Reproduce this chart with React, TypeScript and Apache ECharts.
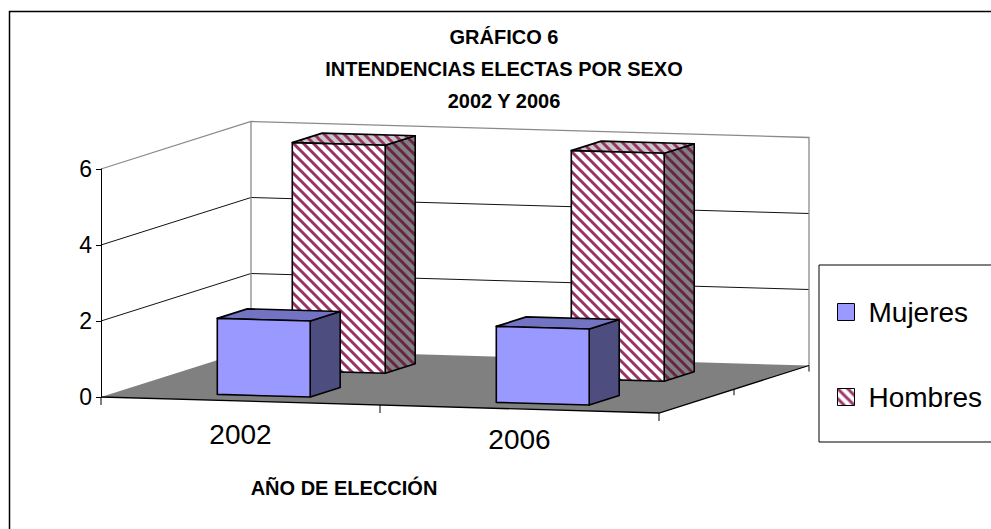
import React, { useEffect, useRef } from 'react';
import * as echarts from 'echarts';

// ---- data ----
const categories = ['2002', '2006'];
const seriesNames = ['Mujeres', 'Hombres'];
const mujeres = [2, 2];
const hombres = [6, 6];
const yTicks = [0, 2, 4, 6];
const titleText = 'GRÁFICO 6\nINTENDENCIAS ELECTAS POR SEXO\n2002 Y 2006';
const xAxisTitle = 'AÑO DE ELECCIÓN';

// ---- projection / style constants ----
const DEPTH_DX = 150;
const DEPTH_DY = -47.5;
const FRONT_SLOPE = 16 / 558;
const BAR_LEFT = -0.145;
const BAR_RIGHT = 0.188;
const ROW_DEPTH = 0.5;
const BAR_FRONT = 0.115;
const BAR_DEPTH = 0.2;
const FONT = "'Liberation Sans', Arial, sans-serif";

function stripes(bg: string, fg: string, size = 10, width = 3) {
  const c = document.createElement('canvas');
  c.width = size;
  c.height = size;
  const ctx = c.getContext('2d') as CanvasRenderingContext2D;
  ctx.fillStyle = bg;
  ctx.fillRect(0, 0, size, size);
  ctx.strokeStyle = fg;
  ctx.lineWidth = width;
  ctx.beginPath();
  for (const k of [-size, 0, size]) {
    ctx.moveTo(k - 3, -3);
    ctx.lineTo(k + size + 3, size + 3);
  }
  ctx.stroke();
  return { image: c, repeat: 'repeat', imageWidth: size, imageHeight: size };
}

function projector(api: any) {
  const band = api.size([1, 0], [0, 0])[0];
  const x0 = api.coord([0, 0])[0] - band / 2;
  return (cat: number, off: number, v: number, d: number) => {
    const p = api.coord([cat, v]);
    const bx = p[0] + off * band;
    return [bx + d * DEPTH_DX, p[1] + (bx - x0) * FRONT_SLOPE + d * DEPTH_DY];
  };
}

export default function App() {
  const ref = useRef<HTMLDivElement>(null);

  useEffect(() => {
    document.body.style.margin = '0';
    if (!ref.current) return;
    const chart = echarts.init(ref.current, undefined, { renderer: 'svg' });

    const hFront = stripes('#ffffff', '#993366');
    const hTop = stripes('#c8c8c8', '#993366');
    const hSide = stripes('#808080', '#6a2246');
    const mFaces = { front: '#9999FF', top: '#7373C4', side: '#4D4D80' };
    const hFaces = { front: hFront, top: hTop, side: hSide };

    const nCat = categories.length;
    const vMax = yTicks[yTicks.length - 1];

    const wallsRender = (_params: any, api: any) => {
      const P = projector(api);
      const L = (v: number, d: number) => P(0, -0.5, v, d);
      const R = (v: number, d: number) => P(nCat - 1, 0.5, v, d);
      const children: any[] = [];
      children.push({ type: 'polygon', shape: { points: [L(0, 0), L(vMax, 0), L(vMax, 1), L(0, 1)] }, style: { fill: '#ffffff' } });
      children.push({ type: 'polygon', shape: { points: [L(0, 1), R(0, 1), R(vMax, 1), L(vMax, 1)] }, style: { fill: '#ffffff' } });
      yTicks.forEach((v) => {
        if (v > 0 && v < vMax) {
          children.push({ type: 'polyline', shape: { points: [L(v, 0), L(v, 1), R(v, 1)] }, style: { stroke: '#111', lineWidth: 1, fill: 'none' } });
        }
      });
      children.push({ type: 'polyline', shape: { points: [L(vMax, 0), L(vMax, 1), R(vMax, 1), R(0, 1)] }, style: { stroke: '#8a8a8a', lineWidth: 1.3, fill: 'none' } });
      children.push({ type: 'polyline', shape: { points: [L(vMax, 1), L(0, 1)] }, style: { stroke: '#8a8a8a', lineWidth: 1.3, fill: 'none' } });
      children.push({ type: 'polygon', shape: { points: [L(0, 0), R(0, 0), R(0, 1), L(0, 1)] }, style: { fill: '#808080' } });
      children.push({ type: 'polyline', shape: { points: [L(0, 0), R(0, 0), R(0, 1)] }, style: { stroke: '#000', lineWidth: 1.3, fill: 'none' } });
      for (let i = 0; i <= nCat; i++) {
        const p = i === nCat ? P(nCat - 1, 0.5, 0, 0) : P(i, -0.5, 0, 0);
        children.push({ type: 'line', shape: { x1: p[0], y1: p[1], x2: p[0], y2: p[1] + 8 }, style: { stroke: '#000', lineWidth: 1 } });
      }
      [0.5, 1].forEach((d) => {
        const p = R(0, d);
        children.push({ type: 'line', shape: { x1: p[0], y1: p[1], x2: p[0], y2: p[1] + 6 }, style: { stroke: '#000', lineWidth: 1 } });
      });
      return { type: 'group', children };
    };

    const barRender = (row: number, faces: any) => (_params: any, api: any) => {
      const P = projector(api);
      const cat = api.value(0);
      const v = api.value(1);
      const d0 = row * ROW_DEPTH + BAR_FRONT;
      const d1 = d0 + BAR_DEPTH;
      const p = (off: number, vv: number, d: number) => P(cat, off, vv, d);
      const st = { stroke: '#000', lineWidth: 1.6, lineJoin: 'round' };
      return {
        type: 'group',
        children: [
          { type: 'polygon', shape: { points: [p(BAR_RIGHT, 0, d0), p(BAR_RIGHT, 0, d1), p(BAR_RIGHT, v, d1), p(BAR_RIGHT, v, d0)] }, style: { fill: faces.side, ...st } },
          { type: 'polygon', shape: { points: [p(BAR_LEFT, v, d0), p(BAR_RIGHT, v, d0), p(BAR_RIGHT, v, d1), p(BAR_LEFT, v, d1)] }, style: { fill: faces.top, ...st } },
          { type: 'polygon', shape: { points: [p(BAR_LEFT, 0, d0), p(BAR_RIGHT, 0, d0), p(BAR_RIGHT, v, d0), p(BAR_LEFT, v, d0)] }, style: { fill: faces.front, ...st } },
        ],
      };
    };

    const option: any = {
      animation: false,
      textStyle: { fontFamily: FONT, color: '#000' },
      title: {
        text: titleText,
        left: 504,
        top: 21,
        padding: 0,
        textAlign: 'center',
        textStyle: { fontFamily: FONT, fontSize: 20, fontWeight: 'bold', lineHeight: 32, color: '#000' },
      },
      legend: {
        orient: 'vertical',
        left: 819,
        top: 265,
        padding: [32, 30, 30, 18],
        itemGap: 55,
        itemWidth: 17,
        itemHeight: 17,
        icon: 'rect',
        borderColor: '#000',
        borderWidth: 1,
        selectedMode: false,
        textStyle: { fontFamily: FONT, fontSize: 28, lineHeight: 30, color: '#000', padding: [0, 0, 0, 9] },
        data: [
          { name: seriesNames[0], itemStyle: { color: mFaces.front, borderColor: '#000', borderWidth: 1 } },
          { name: seriesNames[1], itemStyle: { color: hFront, borderColor: '#000', borderWidth: 1 } },
        ],
      },
      grid: { left: 101, top: 169, width: 558, height: 228, outerBoundsMode: 'none' },
      xAxis: {
        type: 'category',
        data: categories,
        z: 10,
        axisLine: { show: false },
        axisTick: { show: false },
        splitLine: { show: false },
        axisLabel: {
          margin: 23,
          fontFamily: FONT,
          fontSize: 28,
          color: '#000',
          formatter: (val: string) => (val === categories[0] ? '{a|' + val + '}' : '{b|' + val + '}'),
          rich: {
            a: { fontFamily: FONT, fontSize: 28, color: '#000', padding: [0, 0, 5, 0] },
            b: { fontFamily: FONT, fontSize: 28, color: '#000', padding: [5, 0, 0, 0] },
          },
        },
        name: xAxisTitle,
        nameLocation: 'middle',
        nameGap: 81,
        nameTextStyle: { fontFamily: FONT, fontSize: 20, fontWeight: 'bold', color: '#000', padding: [0, 72, 0, 0] },
      },
      yAxis: {
        type: 'value',
        min: 0,
        max: 6,
        interval: 2,
        z: 10,
        axisLine: { show: true, lineStyle: { color: '#000', width: 1 } },
        axisTick: { show: true, length: 5, lineStyle: { color: '#000', width: 1 } },
        splitLine: { show: false },
        axisLabel: { margin: 9, fontFamily: FONT, fontSize: 23, color: '#000' },
      },
      graphic: [
        {
          type: 'polyline',
          shape: { points: [[9.5, 700], [9.5, 11.5], [1100, 11.5]] },
          style: { stroke: '#000', lineWidth: 1.5, fill: 'none' },
          silent: true,
        },
      ],
      series: [
        {
          type: 'custom',
          name: 'walls',
          z: 1,
          silent: true,
          encode: { x: 0, y: 1 },
          data: [[0, 0]],
          renderItem: wallsRender,
        },
        {
          type: 'custom',
          name: seriesNames[1],
          z: 2,
          encode: { x: 0, y: 1 },
          itemStyle: { color: hFront },
          data: hombres.map((v, i) => [i, v]),
          renderItem: barRender(1, hFaces),
        },
        {
          type: 'custom',
          name: seriesNames[0],
          z: 3,
          encode: { x: 0, y: 1 },
          itemStyle: { color: mFaces.front },
          data: mujeres.map((v, i) => [i, v]),
          renderItem: barRender(0, mFaces),
        },
      ],
    };

    chart.setOption(option);
    return () => chart.dispose();
  }, []);

  return <div ref={ref} style={{ width: 991, height: 529 }} />;
}
